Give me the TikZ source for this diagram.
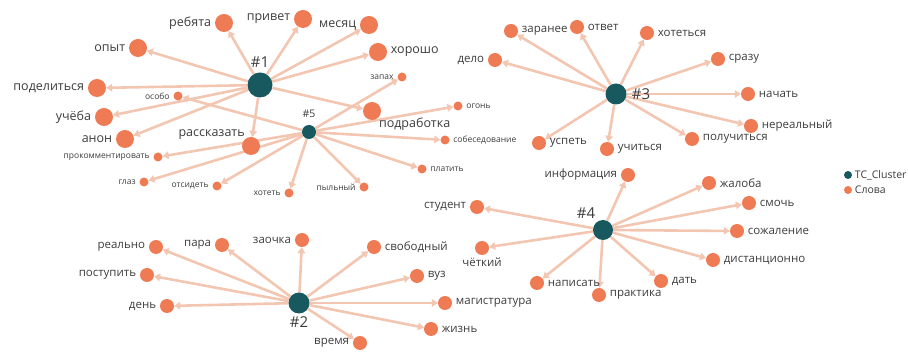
\documentclass[tikz,border=0pt]{standalone}
\usepackage{fontspec}
\setmainfont{Open Sans}
\usetikzlibrary{arrows.meta}
\definecolor{hubcol}{HTML}{17595E}
\definecolor{wordcol}{HTML}{EF7B55}
\definecolor{linkcol}{HTML}{F3C6B2}
\definecolor{txtcol}{HTML}{3C3C3C}
\pgfdeclarelayer{bg}
\pgfsetlayers{bg,main}

\begin{document}
\begin{tikzpicture}
		[x=1pt,y=-1pt,
		 every label/.style={text=txtcol,inner sep=1pt,label distance=2.5pt},
		 hl/.style={font=\fontsize{15}{15}\selectfont,label distance=4pt},
		 bl/.style={font=\fontsize{12.5}{13}\selectfont},
		 ml/.style={font=\fontsize{11.5}{12}\selectfont},
		 sl/.style={font=\fontsize{8.5}{9}\selectfont},
		 dot/.style={circle,fill=wordcol,inner sep=0pt},
		 hub/.style={dot,fill=hubcol},
		 big/.style={dot,minimum size=18pt},
		 mid/.style={dot,minimum size=14pt},
		 small/.style={dot,minimum size=9pt},
		 link/.style={draw=linkcol,line width=2.6pt,-{Triangle[length=6pt,width=7.5pt]}}]
		\useasboundingbox (0,0) rectangle (908,352);
		%-----#1
		 \node[hub,minimum size=25pt,label={[hl]above:\#1}]  (c1) at (260,85) {};
		 \node[big,label={[bl]left:ребята}]  (rebyata) at (224,23) {};
		 \node[big,label={[bl]left:привет}]  (privet) at (303,19) {};
		 \node[big,label={[bl]left:месяц}]  (mesyac) at (369,25) {};
		 \node[big,label={[bl]right:хорошо}]  (horosho) at (378,52) {};
		 \node[big,label={[bl]left:опыт}]  (opyt) at (138,48) {};
		 \node[big,label={[bl]left:поделиться}]  (podelitsya) at (97,88) {};
		 \node[big,label={[bl]left:учёба}]  (ucheba) at (104,117) {};
		 \node[big,label={[bl]left:анон}]  (anon) at (125,139) {};
		 \node[big,label={[bl,label distance=-2pt]above left:рассказать}]  (rasskazat) at (251,146) {};
		 \node[big,label={[bl,label distance=-1pt]below right:подработка}]  (podrabotka) at (372,111) {};
		%-----#5
		 \node[hub,minimum size=14pt,label={[font=\fontsize{10.5}{11}\selectfont,label distance=6pt]above:\#5}]  (c5) at (309,132) {};
		 \node[small,label={[sl]left:запах}]  (zapah) at (402,77) {};
		 \node[small,label={[sl]left:особо}]  (osobo) at (178,96) {};
		 \node[small,label={[sl]left:прокомментировать}]  (prokomm) at (158,157) {};
		 \node[small,label={[sl]left:глаз}]  (glaz) at (144,182) {};
		 \node[small,label={[sl]left:отсидеть}]  (otsidet) at (217,186) {};
		 \node[small,label={[sl]left:хотеть}]  (hotet) at (289,193) {};
		 \node[small,label={[sl]right:огонь}]  (ogon) at (458,106) {};
		 \node[small,label={[sl]right:собеседование}]  (sobes) at (445,140) {};
		 \node[small,label={[sl]right:платить}]  (platit) at (422,169) {};
		 \node[small,label={[sl]left:пыльный}]  (pylnyy) at (364,187) {};
		%-----#3
		 \node[hub,minimum size=21pt,label={[hl]right:\#3}]  (c3) at (616,94) {};
		 \node[mid,label={[ml]right:заранее}]  (zaranee) at (511,31) {};
		 \node[mid,label={[ml]right:ответ}]  (otvet) at (577,27) {};
		 \node[mid,label={[ml]right:хотеться}]  (hotetsya) at (647,33) {};
		 \node[mid,label={[ml]right:сразу}]  (srazu) at (718,59) {};
		 \node[mid,label={[ml]right:начать}]  (nachat) at (748,94) {};
		 \node[mid,label={[ml]right:нереальный}]  (nerealnyy) at (751,126) {};
		 \node[mid,label={[ml]right:получиться}]  (poluchitsya) at (692,139) {};
		 \node[mid,label={[ml]right:учиться}]  (uchitsya) at (607,149) {};
		 \node[mid,label={[ml]right:успеть}]  (uspet) at (539,143) {};
		 \node[mid,label={[ml]left:дело}]  (delo) at (495,60) {};
		%-----#4
		 \node[hub,minimum size=20pt,label={[hl,label distance=0pt,xshift=-17pt]above:\#4}]  (c4) at (603,230) {};
		 \node[mid,label={[ml]left:информация}]  (informaciya) at (628,175) {};
		 \node[mid,label={[ml]right:жалоба}]  (zhaloba) at (709,183) {};
		 \node[mid,label={[ml]right:смочь}]  (smoch) at (749,203) {};
		 \node[mid,label={[ml]right:сожаление}]  (sozhalenie) at (737,231) {};
		 \node[mid,label={[ml]right:дистанционно}]  (distancionno) at (713,260) {};
		 \node[mid,label={[ml]right:дать}]  (dat) at (661,281) {};
		 \node[mid,label={[ml]right:практика}]  (praktika) at (599,295) {};
		 \node[mid,label={[ml]right:написать}]  (napisat) at (537,283) {};
		 \node[mid,label={[ml,label distance=1pt]below:чёткий}]  (chetkiy) at (482,248) {};
		 \node[mid,label={[ml]left:студент}]  (student) at (477,207) {};
		%-----#2
		 \node[hub,minimum size=21pt,label={[hl,label distance=2pt]below:\#2}]  (c2) at (299,303) {};
		 \node[mid,label={[ml]left:реально}]  (realno) at (156,247) {};
		 \node[mid,label={[ml]left:пара}]  (para) at (222,245) {};
		 \node[mid,label={[ml]left:заочка}]  (zaochka) at (302,240) {};
		 \node[mid,label={[ml]right:свободный}]  (svobodnyy) at (374,247) {};
		 \node[mid,label={[ml]right:вуз}]  (vuz) at (417,276) {};
		 \node[mid,label={[ml]right:магистратура}]  (magistratura) at (445,303) {};
		 \node[mid,label={[ml]right:жизнь}]  (zhizn) at (431,329) {};
		 \node[mid,label={[ml]left:время}]  (vremya) at (360,343) {};
		 \node[mid,label={[ml]left:день}]  (den) at (167,306) {};
		 \node[mid,label={[ml]left:поступить}]  (postupit) at (147,275) {};
		%-----legend
		 \node[hub,minimum size=8pt,label={[font=\fontsize{10.5}{11}\selectfont,label distance=1.5pt]right:TC\_Cluster}]  (leg1) at (848,175) {};
		 \node[dot,minimum size=8pt,label={[font=\fontsize{10.5}{11}\selectfont,label distance=1.5pt]right:Слова}]  (leg2) at (848,190) {};

		\begin{pgfonlayer}{bg}
		 \foreach \to in {rebyata, privet, mesyac, horosho, opyt, podelitsya, ucheba, anon, rasskazat, podrabotka}
		 \draw[link] (c1) -- (\to);
		 \foreach \to in {zapah, osobo, prokomm, glaz, otsidet, hotet, ogon, sobes, platit, pylnyy}
		 \draw[link] (c5) -- (\to);
		 \foreach \to in {zaranee, otvet, hotetsya, srazu, nachat, nerealnyy, poluchitsya, uchitsya, uspet, delo}
		 \draw[link] (c3) -- (\to);
		 \foreach \to in {informaciya, zhaloba, smoch, sozhalenie, distancionno, dat, praktika, napisat, chetkiy, student}
		 \draw[link] (c4) -- (\to);
		 \foreach \to in {realno, para, zaochka, svobodnyy, vuz, magistratura, zhizn, vremya, den, postupit}
		 \draw[link] (c2) -- (\to);
		\end{pgfonlayer}
		\end{tikzpicture}
\end{document}
